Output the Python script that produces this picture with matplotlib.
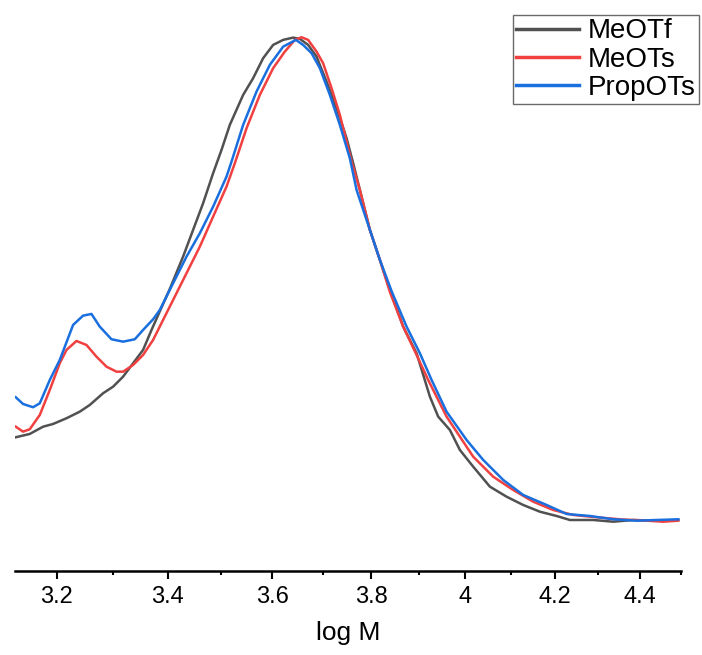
import matplotlib
matplotlib.use('Agg')
import matplotlib.pyplot as plt
from matplotlib.ticker import FixedLocator, NullFormatter

plt.rcParams['font.family'] = ['Liberation Sans', 'DejaVu Sans']

# Datos (log M, senal normalizada)
LOGM_MEOTF = [3.1293, 3.1533, 3.1763, 3.1937, 3.2172, 3.2406, 3.2584, 3.2821, 3.3001, 3.3182,
              3.3364, 3.3546, 3.3701, 3.4039, 3.4287, 3.4475, 3.4664, 3.4854, 3.5014, 3.5173,
              3.5430, 3.5624, 3.5819, 3.6015, 3.6213, 3.6411, 3.6544, 3.6710, 3.6879, 3.7081,
              3.7284, 3.7489, 3.7624, 3.7762, 3.7969, 3.8177, 3.8386, 3.8666, 3.8950, 3.9234,
              3.9412, 3.9665, 3.9882, 4.0173, 4.0541, 4.0912, 4.1285, 4.1664, 4.2045, 4.2352,
              4.2894, 4.3366, 4.3842, 4.4406, 4.4933]
SENAL_MEOTF = [25.04, 25.66, 27.02, 27.53, 28.60, 29.83, 31.09, 33.28, 34.51, 36.39,
               38.90, 41.39, 45.13, 52.81, 58.86, 63.86, 68.86, 74.48, 78.84, 83.52,
               89.14, 92.27, 96.01, 98.50, 99.44, 99.87, 99.63, 98.50, 96.31, 91.63,
               86.65, 81.03, 76.35, 71.35, 63.86, 58.24, 52.62, 45.75, 40.77, 32.64,
               28.90, 26.40, 22.66, 19.53, 15.79, 13.91, 12.36, 11.10, 10.30, 9.55,
               9.55, 9.23, 9.55, 9.42, 9.55]

LOGM_MEOTS = [3.1293, 3.1418, 3.1533, 3.1706, 3.1880, 3.2054, 3.2172, 3.2348, 3.2525, 3.2703,
              3.2882, 3.3063, 3.3182, 3.3364, 3.3546, 3.3730, 3.3822, 3.4101, 3.4351, 3.4602,
              3.4854, 3.5110, 3.5270, 3.5496, 3.5755, 3.6015, 3.6246, 3.6445, 3.6578, 3.6710,
              3.6879, 3.7012, 3.7183, 3.7352, 3.7591, 3.7762, 3.7969, 3.8177, 3.8386, 3.8666,
              3.8950, 3.9197, 3.9593, 3.9882, 4.0173, 4.0614, 4.1060, 4.1511, 4.1967, 4.2428,
              4.2974, 4.3525, 4.4164, 4.4566, 4.4933]
SENAL_MEOTS = [27.02, 26.09, 26.54, 29.21, 33.90, 38.90, 41.39, 43.07, 42.32, 40.13,
               38.26, 37.32, 37.32, 38.58, 40.45, 43.26, 45.13, 50.75, 55.75, 60.73,
               66.35, 71.97, 76.35, 82.90, 89.14, 94.14, 97.25, 99.44, 99.94, 99.44,
               97.25, 95.07, 90.39, 85.39, 76.65, 71.35, 63.86, 58.24, 52.25, 45.75,
               40.45, 35.77, 28.90, 25.15, 21.40, 17.66, 15.17, 12.98, 11.42, 10.49,
               10.06, 9.68, 9.42, 9.23, 9.42]

LOGM_PROPOTS = [3.1293, 3.1418, 3.1590, 3.1706, 3.1880, 3.2054, 3.2288, 3.2465, 3.2614, 3.2762,
                3.2972, 3.3182, 3.3395, 3.3546, 3.3730, 3.3854, 3.4101, 3.4351, 3.4602, 3.4854,
                3.5110, 3.5206, 3.5430, 3.5690, 3.5950, 3.6213, 3.6379, 3.6465, 3.6610, 3.6779,
                3.6946, 3.7148, 3.7352, 3.7556, 3.7694, 3.7969, 3.8177, 3.8428, 3.8738, 3.9020,
                3.9270, 3.9593, 4.0028, 4.0393, 4.0837, 4.1285, 4.1816, 4.2276, 4.2817, 4.3366,
                4.3923, 4.4406, 4.4933]
SENAL_PROPOTS = [32.53, 31.27, 30.66, 31.40, 35.77, 39.51, 46.07, 47.81, 48.13, 45.75,
                 43.39, 42.94, 43.39, 45.13, 47.13, 48.88, 53.88, 58.86, 63.24, 68.22,
                 73.84, 76.65, 83.52, 89.76, 94.76, 98.18, 99.01, 99.44, 98.50, 96.95,
                 94.14, 89.14, 83.52, 77.28, 71.35, 63.86, 58.24, 52.25, 45.75, 40.77,
                 35.77, 29.83, 24.53, 20.79, 17.04, 14.23, 12.36, 10.67, 10.30, 9.68,
                 9.42, 9.55, 9.68]

ETIQUETAS = ['MeOTf', 'MeOTs', 'PropOTs']
COLORES = ['#515151', '#F14040', '#1A6FDF']
TICKS_MAYORES = [3.2, 3.4, 3.6, 3.8, 4.0, 4.2, 4.4]
TICKS_MENORES = [3.3, 3.5, 3.7, 3.9, 4.1, 4.3, 4.5]

fig = plt.figure(figsize=(7.02, 6.55), dpi=100)
ax = fig.add_axes([15 / 702, 84 / 655, 666 / 702, 556 / 655])

series = [(LOGM_MEOTF, SENAL_MEOTF), (LOGM_MEOTS, SENAL_MEOTS), (LOGM_PROPOTS, SENAL_PROPOTS)]
for (x, y), etiqueta, color in zip(series, ETIQUETAS, COLORES):
    ax.plot(x, y, color=color, lw=1.8, label=etiqueta)

# El eje x del original es logaritmico en log M
ax.set_xscale('log')
ax.set_xlim(3.128, 4.5)
ax.set_ylim(0, 104.1)
ax.xaxis.set_major_locator(FixedLocator(TICKS_MAYORES))
ax.xaxis.set_minor_locator(FixedLocator(TICKS_MENORES))
ax.set_xticklabels(['%g' % t for t in TICKS_MAYORES])
ax.xaxis.set_minor_formatter(NullFormatter())

for lado in ['left', 'top', 'right']:
    ax.spines[lado].set_visible(False)
ax.spines['bottom'].set_linewidth(1.8)
ax.set_yticks([])
ax.tick_params(axis='x', which='major', length=5.5, width=1.5, labelsize=17, pad=5)
ax.tick_params(axis='x', which='minor', length=3, width=1.5)
ax.set_xlabel('log M', fontsize=19, labelpad=10)

leg = fig.legend(loc='upper left', bbox_to_anchor=(513 / 702, 1 - 15 / 655), fontsize=20,
                 frameon=True, fancybox=False, edgecolor='#6a6a6a', framealpha=1,
                 borderpad=0.12, labelspacing=0.08, handlelength=2.27, handletextpad=0.3,
                 borderaxespad=0)
for linea in leg.get_lines():
    linea.set_linewidth(2.5)

fig.savefig('out.png', dpi=100)
